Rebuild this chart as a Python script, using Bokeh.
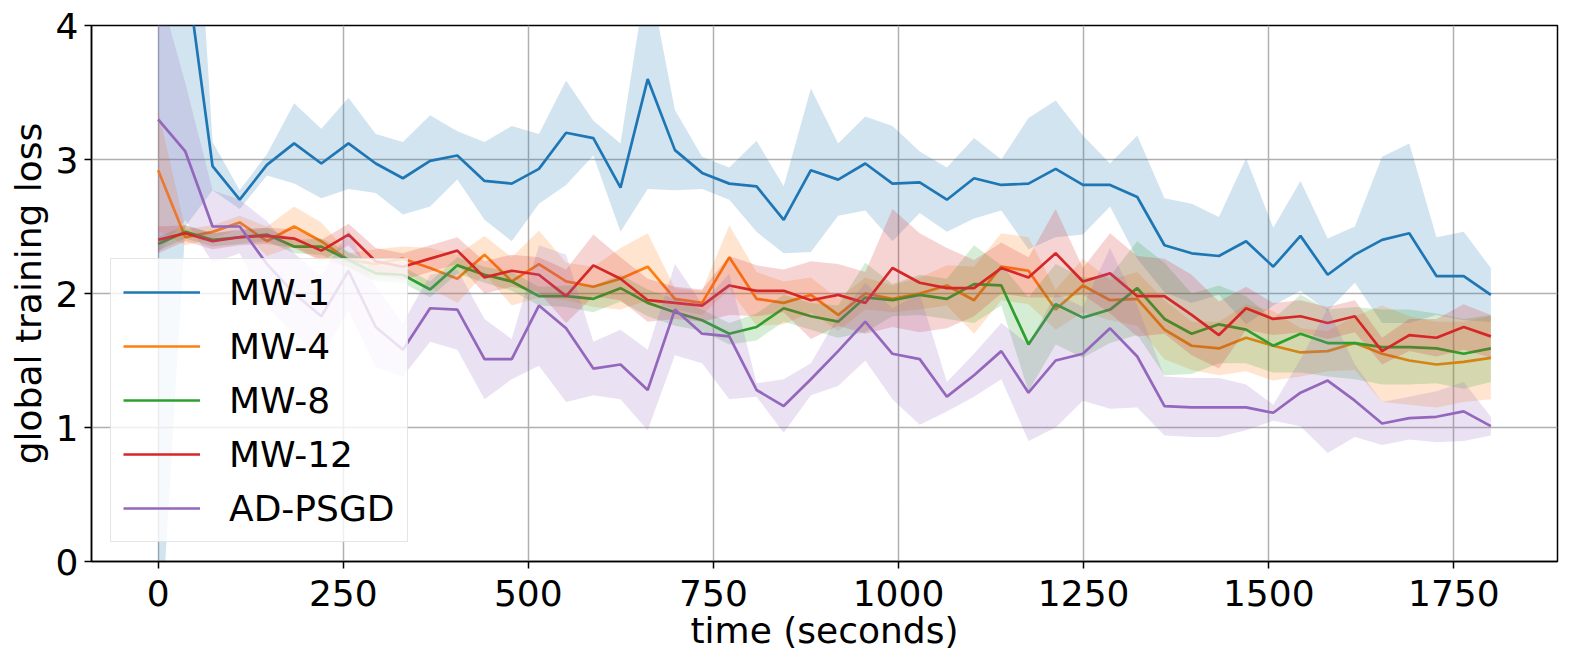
import numpy as np
from bokeh.plotting import figure
from bokeh.models import Legend, LegendItem, FixedTicker, Range1d
from bokeh.embed import file_html
from bokeh.resources import INLINE

time_s = [0.0, 36.7, 73.5, 110.2, 146.9, 183.7, 220.4, 257.1, 293.9, 330.6,
          367.3, 404.1, 440.8, 477.6, 514.3, 551.0, 587.8, 624.5, 661.2, 698.0,
          734.7, 771.4, 808.2, 844.9, 881.6, 918.4, 955.1, 991.8, 1028.6, 1065.3,
          1102.0, 1138.8, 1175.5, 1212.2, 1249.0, 1285.7, 1322.4, 1359.2, 1395.9, 1432.7,
          1469.4, 1506.1, 1542.9, 1579.6, 1616.3, 1653.1, 1689.8, 1726.5, 1763.3, 1800.0]

mw1_mean = [6.0, 4.47, 2.95, 2.70, 2.96, 3.12, 2.97, 3.12, 2.97, 2.86,
            2.99, 3.03, 2.84, 2.82, 2.93, 3.20, 3.16, 2.79, 3.60, 3.07,
            2.90, 2.82, 2.80, 2.55, 2.92, 2.85, 2.97, 2.82, 2.83, 2.70,
            2.86, 2.81, 2.82, 2.93, 2.81, 2.81, 2.72, 2.36, 2.30, 2.28,
            2.39, 2.20, 2.43, 2.14, 2.29, 2.40, 2.45, 2.13, 2.13, 1.99]
mw1_std = [6.9, 1.97, 0.18, 0.07, 0.08, 0.30, 0.26, 0.34, 0.22, 0.27,
           0.34, 0.18, 0.29, 0.43, 0.26, 0.39, 0.13, 0.33, 0.82, 0.30,
           0.12, 0.12, 0.34, 0.25, 0.61, 0.27, 0.35, 0.43, 0.23, 0.24,
           0.30, 0.19, 0.49, 0.51, 0.37, 0.16, 0.46, 0.35, 0.37, 0.29,
           0.62, 0.29, 0.41, 0.27, 0.21, 0.62, 0.67, 0.29, 0.33, 0.20]

mw4_mean = [2.92, 2.42, 2.46, 2.53, 2.39, 2.50, 2.39, 2.25, 2.22, 2.26,
            2.19, 2.11, 2.29, 2.09, 2.22, 2.09, 2.05, 2.11, 2.20, 1.96,
            1.93, 2.27, 1.96, 1.93, 1.99, 1.84, 2.00, 1.96, 2.00, 2.06,
            1.95, 2.20, 2.17, 1.88, 2.06, 1.95, 1.96, 1.73, 1.61, 1.59,
            1.67, 1.61, 1.56, 1.57, 1.63, 1.55, 1.50, 1.47, 1.49, 1.52]
mw4_std = [0.45, 0.06, 0.05, 0.05, 0.11, 0.15, 0.14, 0.05, 0.11, 0.09,
           0.15, 0.18, 0.14, 0.18, 0.25, 0.14, 0.15, 0.23, 0.25, 0.08,
           0.09, 0.24, 0.20, 0.16, 0.13, 0.12, 0.12, 0.10, 0.12, 0.15,
           0.25, 0.25, 0.25, 0.15, 0.20, 0.15, 0.20, 0.22, 0.18, 0.20,
           0.25, 0.26, 0.18, 0.15, 0.20, 0.36, 0.33, 0.32, 0.30, 0.31]

mw8_mean = [2.37, 2.46, 2.40, 2.42, 2.44, 2.35, 2.35, 2.25, 2.15, 2.14,
            2.03, 2.21, 2.14, 2.09, 1.98, 1.98, 1.96, 2.04, 1.93, 1.86,
            1.80, 1.70, 1.75, 1.89, 1.83, 1.79, 1.97, 1.95, 1.99, 1.96,
            2.07, 2.06, 1.62, 1.92, 1.82, 1.88, 2.04, 1.81, 1.70, 1.77,
            1.73, 1.61, 1.70, 1.63, 1.63, 1.60, 1.60, 1.59, 1.55, 1.59]
mw8_std = [0.05, 0.05, 0.05, 0.05, 0.05, 0.05, 0.06, 0.06, 0.06, 0.06,
           0.06, 0.06, 0.06, 0.07, 0.07, 0.08, 0.10, 0.10, 0.10, 0.10,
           0.08, 0.08, 0.10, 0.10, 0.10, 0.12, 0.26, 0.12, 0.15, 0.15,
           0.29, 0.15, 0.35, 0.30, 0.30, 0.25, 0.35, 0.42, 0.30, 0.29,
           0.25, 0.20, 0.29, 0.25, 0.27, 0.28, 0.28, 0.26, 0.26, 0.25]

mw12_mean = [2.40, 2.45, 2.39, 2.42, 2.43, 2.41, 2.32, 2.44, 2.24, 2.20,
             2.26, 2.32, 2.12, 2.17, 2.14, 1.98, 2.21, 2.11, 1.95, 1.93,
             1.91, 2.06, 2.02, 2.02, 1.95, 1.99, 1.93, 2.19, 2.08, 2.04,
             2.04, 2.19, 2.12, 2.30, 2.09, 2.15, 1.98, 1.98, 1.84, 1.69,
             1.89, 1.81, 1.83, 1.78, 1.83, 1.57, 1.69, 1.67, 1.75, 1.68]
mw12_std = [0.10, 0.06, 0.06, 0.06, 0.06, 0.07, 0.08, 0.08, 0.10, 0.10,
            0.10, 0.10, 0.12, 0.12, 0.13, 0.20, 0.23, 0.16, 0.16, 0.12,
            0.12, 0.22, 0.19, 0.16, 0.29, 0.23, 0.23, 0.44, 0.37, 0.30,
            0.21, 0.19, 0.15, 0.33, 0.10, 0.30, 0.30, 0.28, 0.30, 0.25,
            0.16, 0.12, 0.12, 0.12, 0.12, 0.10, 0.12, 0.14, 0.17, 0.16]

adpsgd_mean = [3.30, 3.06, 2.50, 2.50, 2.22, 2.00, 1.83, 2.17, 1.75, 1.58,
               1.89, 1.88, 1.51, 1.51, 1.91, 1.74, 1.44, 1.47, 1.28, 1.88,
               1.70, 1.68, 1.28, 1.16, 1.36, 1.57, 1.79, 1.55, 1.51, 1.23,
               1.39, 1.57, 1.26, 1.50, 1.55, 1.74, 1.53, 1.16, 1.15, 1.15,
               1.15, 1.11, 1.26, 1.35, 1.20, 1.03, 1.07, 1.08, 1.12, 1.01]
adpsgd_std = [1.00, 0.51, 0.27, 0.20, 0.32, 0.30, 0.30, 0.30, 0.30, 0.20,
              0.25, 0.30, 0.30, 0.15, 0.45, 0.55, 0.20, 0.26, 0.30, 0.34,
              0.22, 0.47, 0.05, 0.20, 0.12, 0.26, 0.29, 0.34, 0.49, 0.11,
              0.16, 0.21, 0.36, 0.50, 0.35, 0.60, 0.38, 0.22, 0.22, 0.22,
              0.17, 0.06, 0.25, 0.54, 0.27, 0.16, 0.16, 0.19, 0.22, 0.07]

series_names = ["MW-1", "MW-4", "MW-8", "MW-12", "AD-PSGD"]
series_colors = ["#1f77b4", "#ff7f0e", "#2ca02c", "#d62728", "#9467bd"]
series_means = [mw1_mean, mw4_mean, mw8_mean, mw12_mean, adpsgd_mean]
series_stds = [mw1_std, mw4_std, mw8_std, mw12_std, adpsgd_std]

x_ticks = [0, 250, 500, 750, 1000, 1250, 1500, 1750]
y_ticks = [0, 1, 2, 3, 4]
x_title = "time (seconds)"
y_title = "global training loss"

FONT = "DejaVu Sans"

p = figure(width=1578, height=653, output_backend="svg", toolbar_location=None,
           x_range=Range1d(-90, 1890), y_range=Range1d(0, 4),
           min_border_left=91, min_border_right=21, min_border_top=25,
           min_border_bottom=91)

p.background_fill_color = "white"
p.border_fill_color = "white"
p.outline_line_color = "black"
p.outline_line_width = 1.5
p.outline_line_alpha = 1.0

line_renderers = []
for name, c, m, s in zip(series_names, series_colors, series_means, series_stds):
    m = np.array(m)
    s = np.array(s)
    r = p.line(time_s, m, line_color=c, line_width=2.7)
    p.varea(x=time_s, y1=m - s, y2=m + s, fill_color=c, fill_alpha=0.2)
    line_renderers.append(r)

for ax in (p.xaxis[0], p.yaxis[0]):
    ax.axis_line_width = 1.5
    ax.axis_line_color = "black"
    ax.major_tick_line_width = 1.5
    ax.major_tick_line_color = "black"
    ax.major_tick_out = 7
    ax.major_tick_in = 0
    ax.minor_tick_out = 0
    ax.minor_tick_in = 0
    ax.major_label_text_font = FONT
    ax.major_label_text_font_size = "36px"
    ax.major_label_text_color = "black"
    ax.axis_label_text_font = FONT
    ax.axis_label_text_font_size = "36px"
    ax.axis_label_text_font_style = "normal"
    ax.axis_label_text_color = "black"

p.xaxis[0].major_label_standoff = 11
p.xaxis[0].axis_label_standoff = 1
p.yaxis[0].major_label_standoff = 6
p.yaxis[0].axis_label_standoff = 4

p.xaxis[0].ticker = FixedTicker(ticks=x_ticks)
p.yaxis[0].ticker = FixedTicker(ticks=y_ticks)
p.xaxis[0].axis_label = x_title
p.yaxis[0].axis_label = y_title

for g in (p.xgrid[0], p.ygrid[0]):
    g.grid_line_color = "#b0b0b0"
    g.grid_line_width = 1.5
p.xgrid[0].ticker = FixedTicker(ticks=x_ticks)
p.ygrid[0].ticker = FixedTicker(ticks=y_ticks)

legend = Legend(
    items=[LegendItem(label=n, renderers=[r]) for n, r in zip(series_names, line_renderers)],
    location=(19, 19),
    label_text_font=FONT,
    label_text_font_size="36px",
    label_text_color="black",
    glyph_width=77,
    glyph_height=42,
    label_standoff=29,
    spacing=12,
    padding=12,
    margin=0,
    border_line_color="#cccccc",
    border_line_width=1.5,
    background_fill_color="white",
    background_fill_alpha=0.8,
)
p.add_layout(legend)

open("out.html", "w").write(file_html(p, INLINE))
